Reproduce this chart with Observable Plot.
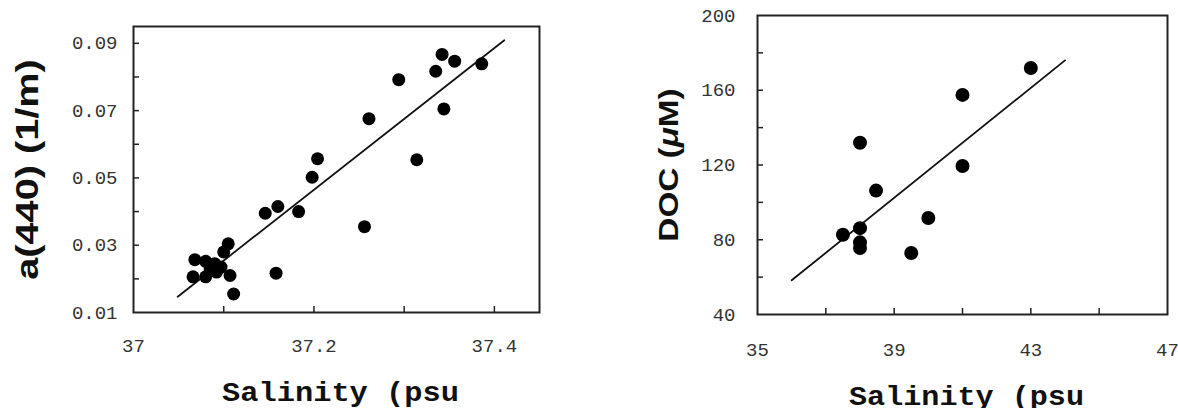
<!DOCTYPE html>
<html><head><meta charset="utf-8">
<script src="https://cdn.jsdelivr.net/npm/d3@7"></script>
<script src="https://cdn.jsdelivr.net/npm/@observablehq/plot@0.6"></script>
<style>
body{margin:0;background:#fff}
#wrap{position:relative;width:1178px;height:408px;overflow:hidden;background:#fff}
#left,#right{position:absolute;top:0}
#left{left:0}
#right{left:589px}
</style></head><body>
<div id="wrap"><div id="left"></div><div id="right"></div></div>
<script>
// ---- Panel A: a(440) vs salinity ----
const salA = [37.342, 37.356, 37.335, 37.386, 37.294, 37.344, 37.261, 37.204, 37.314, 37.198,
              37.146, 37.160, 37.183, 37.256, 37.158, 37.105, 37.100, 37.111, 37.107, 37.068,
              37.080, 37.090, 37.066, 37.080, 37.092, 37.097, 37.085];
const absA = [0.0867, 0.0847, 0.0817, 0.0839, 0.0792, 0.0705, 0.0676, 0.0557, 0.0554, 0.0502,
              0.0395, 0.0415, 0.0400, 0.0355, 0.0217, 0.0304, 0.0280, 0.0155, 0.0210, 0.0257,
              0.0252, 0.0245, 0.0206, 0.0206, 0.0220, 0.0235, 0.0230];
const fitSalA = [37.049, 37.411];
const fitAbsA = [0.0147, 0.0909];
const xLabelsA = [37, 37.2, 37.4];
const xMinorA = [37.1, 37.2, 37.3, 37.4];
const yLabelsA = [0.01, 0.03, 0.05, 0.07, 0.09];
const yMinorA = [0.02, 0.03, 0.04, 0.05, 0.06, 0.07, 0.08, 0.09];
const xTitleA = "Salinity (psu";
const yTitleA = "a(440) (1/m)";

// ---- Panel B: DOC vs salinity ----
const salB = [43, 41, 41, 38, 38.47, 40, 38, 37.5, 38, 38, 39.5];
const docB = [171.9, 157.5, 119.5, 131.9, 106.3, 91.6, 86.2, 82.7, 78.6, 75.6, 72.9];
const fitSalB = [36, 44];
const fitDocB = [58.3, 176];
const xLabelsB = [35, 39, 43, 47];
const xMinorB = [37, 39, 41, 43, 45];
const yLabelsB = [40, 80, 120, 160, 200];
const yMinorB = [60, 80, 100, 120, 140, 160, 180];
const xTitleB = "Salinity (psu";
const yTitleB = "DOC (μM)";

function panel(c) {
  const W = 589, H = 408;
  const fw = W - c.ml - c.mr, fh = H - c.mt - c.mb;
  const idx = d3.range(c.xs.length);
  const fidx = [0, 1];
  const svg = Plot.plot({
    width: W, height: H,
    marginLeft: c.ml, marginRight: c.mr, marginTop: c.mt, marginBottom: c.mb,
    style: {fontFamily: "'Liberation Mono', monospace", fontSize: c.tickFont + "px", color: "#333", background: "#fff"},
    x: {domain: c.xDomain},
    y: {domain: c.yDomain},
    marks: [
      Plot.ruleX(c.xMinor, {x: d => d, insetTop: fh - 6, stroke: "#222", strokeWidth: 1.5}),
      Plot.ruleY(c.yMinor, {y: d => d, insetRight: fw - 6, stroke: "#222", strokeWidth: 1.5}),
      Plot.axisX(c.xLabels, {tickSize: 0, tickPadding: c.xPad, tickFormat: d => String(d), label: null, fill: "#333"}),
      Plot.axisY(c.yLabels, {tickSize: 0, tickPadding: c.yPad, tickFormat: c.yFmt, label: null, fill: "#333"}),
      Plot.line(fidx, {x: i => c.fx[i], y: i => c.fy[i], stroke: "#111", strokeWidth: 1.8}),
      Plot.dot(idx, {x: i => c.xs[i], y: i => c.ys[i], r: c.r, fill: "#000", stroke: "none"}),
      Plot.frame({stroke: "#222", strokeWidth: 2}),
      Plot.text([c.xTitle], {frameAnchor: "bottom", dx: 4, dy: c.xTitleDy, lineAnchor: "middle",
        fontFamily: "'Liberation Mono', monospace", fontWeight: "bold", fontSize: c.xTitleFont, fill: "#111"}),
      Plot.text([c.yTitle], {frameAnchor: "left", dx: c.yTitleDx, rotate: -90, lineAnchor: "middle", textAnchor: "middle",
        fontFamily: "'Liberation Sans', Arial, sans-serif", fontWeight: "bold", fontSize: c.yTitleFont, fill: "#111"})
    ]
  });
  const s = d3.select(svg);
  s.selectAll("text").filter(function() { return this.textContent === c.xTitle; })
    .attr("textLength", c.xTitleLen).attr("lengthAdjust", "spacingAndGlyphs");
  s.selectAll("text").filter(function() { return this.textContent === c.yTitle; }).each(function() {
    const t = d3.select(this);
    const tr = t.attr("transform") || "";
    t.attr("transform", tr + ` scale(${c.yStretch},1)`);
    if (c.italicMu) {
      const txt = t.text();
      const k = txt.indexOf("μ");
      if (k >= 0) {
        t.text(null);
        t.append("tspan").text(txt.slice(0, k));
        t.append("tspan").attr("font-style", "italic").text("μ");
        t.append("tspan").text(txt.slice(k + 1));
      }
    }
  });
  return svg;
}

document.getElementById("left").appendChild(panel({
  ml: 133, mr: 50, mt: 26, mb: 96,
  xDomain: [37, 37.45], yDomain: [0.01, 0.095],
  xs: salA, ys: absA, fx: fitSalA, fy: fitAbsA, r: 6.5,
  xLabels: xLabelsA, xMinor: xMinorA, yLabels: yLabelsA, yMinor: yMinorA,
  yFmt: d => d.toFixed(2), tickFont: 19, xPad: 26, yPad: 16,
  xTitle: xTitleA, yTitle: yTitleA, xTitleDy: 80, xTitleFont: 27, xTitleLen: 237,
  yTitleDx: -105.5, yTitleFont: 31, yStretch: 1.28, italicMu: false
}));

document.getElementById("right").appendChild(panel({
  ml: 168, mr: 11, mt: 15, mb: 94,
  xDomain: [35, 47], yDomain: [40, 200],
  xs: salB, ys: docB, fx: fitSalB, fy: fitDocB, r: 7,
  xLabels: xLabelsB, xMinor: xMinorB, yLabels: yLabelsB, yMinor: yMinorB,
  yFmt: d => String(d), tickFont: 19, xPad: 27.5, yPad: 22,
  xTitle: xTitleB, yTitle: yTitleB, xTitleDy: 82, xTitleFont: 27, xTitleLen: 235,
  yTitleDx: -88, yTitleFont: 28, yStretch: 1.19, italicMu: true
}));
</script>
</body></html>
